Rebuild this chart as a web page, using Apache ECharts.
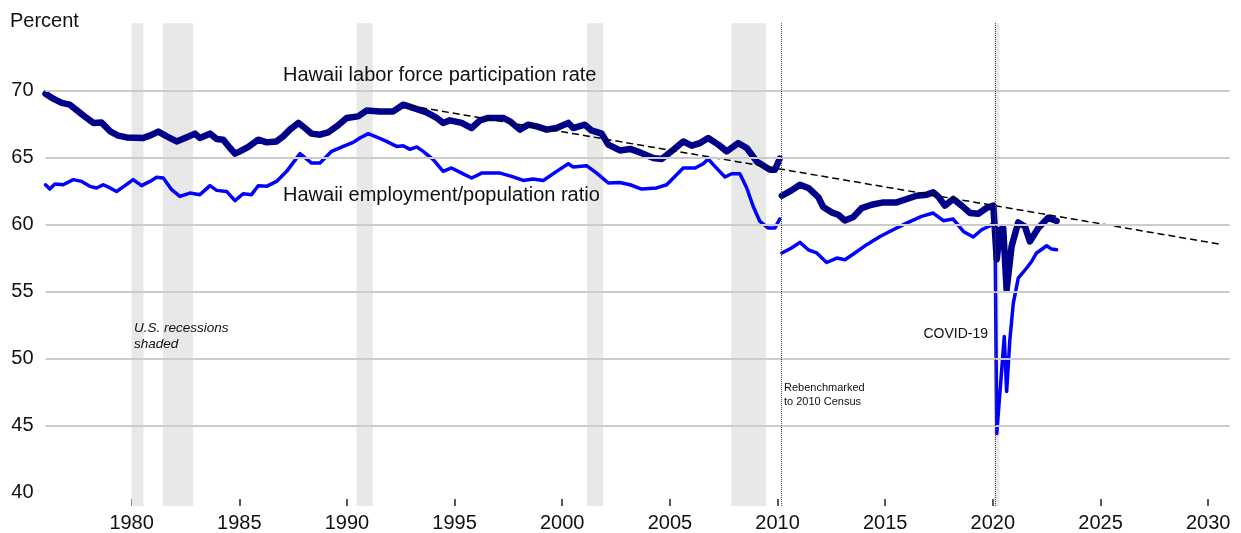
<!DOCTYPE html>
<html>
<head>
<meta charset="utf-8">
<title>Hawaii labor force participation and employment/population ratio</title>
<script src="https://cdn.jsdelivr.net/npm/echarts@6/dist/echarts.min.js"></script>
<style>
  html, body { margin: 0; padding: 0; background: #fff; }
  #chartingArea { width: 1241px; height: 533px; }
</style>
</head>
<body>
<div id="chartingArea"></div>
<script>
// tick labels
const yearTicks = [1980, 1985, 1990, 1995, 2000, 2005, 2010, 2015, 2020, 2025, 2030];
const valueTicks = [40, 45, 50, 55, 60, 65, 70];
const gridValues = [45, 50, 55, 60, 65, 70];

// U.S. recessions (start, end) in decimal years
const recessions = [
  [1980.0, 1980.55], [1981.45, 1982.85], [1990.45, 1991.2],
  [2001.15, 2001.9], [2007.85, 2009.47], [2020.05, 2020.3]
];
// dotted markers: rebenchmark and covid
const breakYears = [2010.15, 2020.12];

// Hawaii labor force participation rate, before rebenchmark
const lfprOld = [
  [1976.0, 69.75], [1976.36, 69.38], [1976.75, 69.06], [1977.13, 68.93], [1977.52, 68.43],
  [1977.91, 67.94], [1978.22, 67.57], [1978.6, 67.61], [1979.0, 66.94], [1979.38, 66.62],
  [1979.77, 66.49], [1980.54, 66.45], [1980.85, 66.62], [1981.24, 66.92], [1981.63, 66.57],
  [1982.09, 66.19], [1982.48, 66.45], [1982.94, 66.77], [1983.17, 66.45], [1983.64, 66.77],
  [1983.95, 66.37], [1984.25, 66.32], [1984.57, 65.7], [1984.8, 65.28], [1985.03, 65.45],
  [1985.42, 65.78], [1985.88, 66.32], [1986.27, 66.12], [1986.73, 66.19], [1987.04, 66.57],
  [1987.35, 67.07], [1987.74, 67.57], [1988.05, 67.19], [1988.36, 66.77], [1988.75, 66.69],
  [1989.13, 66.87], [1989.52, 67.31], [1989.99, 67.94], [1990.52, 68.06], [1990.91, 68.49],
  [1991.53, 68.43], [1992.15, 68.43], [1992.61, 68.93], [1993.08, 68.69], [1993.7, 68.36],
  [1994.17, 67.94], [1994.47, 67.57], [1994.78, 67.76], [1995.33, 67.57], [1995.79, 67.19],
  [1996.18, 67.76], [1996.56, 67.94], [1997.26, 67.94], [1997.57, 67.69], [1998.03, 67.07],
  [1998.42, 67.44], [1998.81, 67.31], [1999.28, 67.07], [1999.74, 67.19], [2000.28, 67.57],
  [2000.51, 67.19], [2001.05, 67.44], [2001.36, 67.01], [2001.83, 66.77], [2002.14, 65.95],
  [2002.68, 65.52], [2003.15, 65.63], [2003.61, 65.37], [2004.23, 64.96], [2004.62, 64.88],
  [2005.16, 65.57], [2005.62, 66.19], [2006.01, 65.87], [2006.4, 66.07], [2006.78, 66.45],
  [2007.25, 65.95], [2007.64, 65.45], [2008.17, 66.07], [2008.57, 65.7], [2009.03, 64.7],
  [2009.65, 64.08], [2009.88, 64.08], [2010.1, 64.9]
];
// Hawaii labor force participation rate, rebenchmarked to 2010 Census
const lfprNew = [
  [2010.2, 62.14], [2010.65, 62.54], [2011.04, 62.96], [2011.43, 62.72], [2011.89, 62.04],
  [2012.12, 61.3], [2012.51, 60.9], [2012.82, 60.72], [2013.13, 60.3], [2013.52, 60.55],
  [2013.91, 61.22], [2014.37, 61.47], [2014.91, 61.64], [2015.53, 61.64], [2016.0, 61.9],
  [2016.46, 62.14], [2016.93, 62.22], [2017.23, 62.39], [2017.46, 62.09], [2017.77, 61.4],
  [2018.16, 61.9], [2018.55, 61.4], [2018.94, 60.85], [2019.32, 60.8], [2019.71, 61.22],
  [2020.02, 61.4], [2020.1, 61.3], [2020.18, 57.4], [2020.33, 59.6], [2020.48, 59.73],
  [2020.64, 55.13], [2020.87, 58.36], [2021.18, 60.15], [2021.49, 59.85], [2021.72, 58.73],
  [2022.11, 59.73], [2022.57, 60.5], [2022.96, 60.25]
];
// Hawaii employment/population ratio, before rebenchmark
const epOld = [
  [1976.0, 62.96], [1976.2, 62.64], [1976.44, 63.01], [1976.82, 62.96], [1977.29, 63.34],
  [1977.68, 63.21], [1978.06, 62.84], [1978.37, 62.72], [1978.68, 62.96], [1979.0, 62.72],
  [1979.3, 62.46], [1979.69, 62.89], [1980.07, 63.34], [1980.46, 62.89], [1980.85, 63.21],
  [1981.16, 63.51], [1981.47, 63.46], [1981.86, 62.59], [1982.24, 62.09], [1982.71, 62.34],
  [1983.17, 62.22], [1983.64, 62.89], [1983.95, 62.54], [1984.41, 62.46], [1984.8, 61.77],
  [1985.18, 62.29], [1985.57, 62.22], [1985.88, 62.89], [1986.27, 62.84], [1986.73, 63.21],
  [1987.2, 63.96], [1987.82, 65.28], [1988.36, 64.58], [1988.75, 64.58], [1989.29, 65.45],
  [1989.83, 65.82], [1990.29, 66.12], [1990.6, 66.45], [1990.99, 66.77], [1991.38, 66.52],
  [1991.84, 66.19], [1992.31, 65.82], [1992.61, 65.87], [1992.93, 65.6], [1993.24, 65.78],
  [1993.54, 65.45], [1994.01, 64.83], [1994.47, 63.96], [1994.86, 64.21], [1995.33, 63.83],
  [1995.79, 63.46], [1996.26, 63.83], [1997.11, 63.83], [1997.65, 63.58], [1998.19, 63.28],
  [1998.65, 63.39], [1999.12, 63.28], [1999.74, 63.96], [2000.28, 64.53], [2000.51, 64.28],
  [2001.13, 64.38], [2001.6, 63.83], [2002.14, 63.09], [2002.68, 63.13], [2003.15, 62.96],
  [2003.69, 62.64], [2004.38, 62.72], [2004.85, 62.96], [2005.23, 63.58], [2005.62, 64.21],
  [2006.17, 64.21], [2006.55, 64.53], [2006.78, 64.88], [2007.09, 64.33], [2007.56, 63.54],
  [2007.87, 63.78], [2008.25, 63.78], [2008.57, 62.72], [2008.87, 61.34], [2009.18, 60.22],
  [2009.57, 59.73], [2009.88, 59.73], [2010.1, 60.4]
];
// Hawaii employment/population ratio, rebenchmarked
const epNew = [
  [2010.2, 57.87], [2010.65, 58.24], [2011.04, 58.66], [2011.43, 58.11], [2011.82, 57.87],
  [2012.28, 57.16], [2012.75, 57.49], [2013.13, 57.37], [2013.59, 57.87], [2014.14, 58.49],
  [2014.76, 59.1], [2015.37, 59.6], [2015.99, 60.1], [2016.69, 60.6], [2017.23, 60.85],
  [2017.7, 60.28], [2018.16, 60.4], [2018.63, 59.48], [2019.09, 59.06], [2019.48, 59.6],
  [2019.87, 59.9], [2020.02, 60.1], [2020.1, 59.9], [2020.18, 44.4], [2020.53, 51.64],
  [2020.64, 47.54], [2020.79, 51.4], [2020.95, 54.13], [2021.18, 56.0], [2021.57, 56.75],
  [2021.8, 57.24], [2022.03, 57.87], [2022.5, 58.41], [2022.73, 58.16], [2022.96, 58.11]
];
// dashed trend from the 1992 peak
const trendLine = [[1992.9, 68.86], [2030.5, 58.54]];

const FONT = "'Liberation Sans', Arial, sans-serif";
const LFPR_COLOR = '#00008b';
const EP_COLOR = '#0000ff';

const myChart = echarts.init(document.getElementById('chartingArea'));

function lineSeries(name, data, color, width, z) {
  return {
    name: name,
    type: 'line',
    data: data,
    symbol: 'none',
    z: z,
    silent: true,
    lineStyle: { color: color, width: width, join: 'round', cap: 'round' }
  };
}

function note(text, x, y, font, align) {
  return {
    type: 'text', x: x, y: y, z: 100, silent: true,
    style: { text: text, font: font, fill: '#111', align: align || 'left', verticalAlign: 'middle' }
  };
}

myChart.setOption({
  animation: false,
  backgroundColor: '#fff',
  textStyle: { fontFamily: FONT },
  grid: { left: 45.5, right: 11.3, top: 23.3, bottom: 26.9 },
  xAxis: {
    type: 'value',
    min: 1976,
    max: 2031,
    axisLine: { show: false },
    splitLine: { show: false },
    axisTick: {
      show: true,
      inside: true,
      length: 7,
      customValues: yearTicks,
      lineStyle: { color: '#222', width: 1.5 }
    },
    axisLabel: {
      customValues: yearTicks,
      formatter: v => String(v),
      margin: 7,
      fontSize: 20,
      color: '#111',
      fontFamily: FONT
    }
  },
  yAxis: {
    type: 'value',
    min: 39,
    max: 75,
    axisLine: { show: false },
    axisTick: { show: false },
    splitLine: { show: false },
    axisLabel: {
      customValues: valueTicks,
      formatter: v => String(v),
      margin: 12,
      fontSize: 20,
      color: '#111',
      fontFamily: FONT
    }
  },
  series: [
    {
      type: 'line',
      data: [],
      z: 0,
      silent: true,
      markArea: {
        silent: true,
        itemStyle: { color: '#e8e8e8' },
        data: recessions.map(r => [{ xAxis: r[0] }, { xAxis: r[1] }])
      }
    },
    {
      type: 'line',
      data: [],
      z: 1,
      silent: true,
      markLine: {
        silent: true,
        symbol: 'none',
        label: { show: false },
        lineStyle: { color: '#cccccc', width: 2, type: 'solid' },
        data: gridValues.map(v => ({ yAxis: v }))
      }
    },
    {
      type: 'line',
      data: [],
      z: 1,
      silent: true,
      markLine: {
        silent: true,
        symbol: 'none',
        label: { show: false },
        lineStyle: { color: '#444', width: 1, type: 'dotted' },
        data: breakYears.map(v => ({ xAxis: v }))
      }
    },
    lineSeries('epOld', epOld, EP_COLOR, 3.5, 2),
    lineSeries('epNew', epNew, EP_COLOR, 3.5, 2),
    lineSeries('lfprOld', lfprOld, LFPR_COLOR, 6.5, 3),
    lineSeries('lfprNew', lfprNew, LFPR_COLOR, 6.5, 3),
    {
      name: 'trend',
      type: 'line',
      data: trendLine,
      symbol: 'none',
      z: 4,
      silent: true,
      lineStyle: { color: '#000', width: 1.5, type: [7, 4] }
    }
  ],
  graphic: [
    note('Percent', 10, 21.3, '20px ' + FONT),
    note('Hawaii labor force participation rate', 283, 75.5, '20px ' + FONT),
    note('Hawaii employment/population ratio', 283, 195, '20px ' + FONT),
    note('U.S. recessions', 134, 328.3, 'italic 13.5px ' + FONT),
    note('shaded', 134, 344.3, 'italic 13.5px ' + FONT),
    note('Rebenchmarked', 784, 388.3, '11px ' + FONT),
    note('to 2010 Census', 784, 401.7, '11px ' + FONT),
    note('COVID-19', 988, 334.3, '14px ' + FONT, 'right')
  ]
});
</script>
</body>
</html>
